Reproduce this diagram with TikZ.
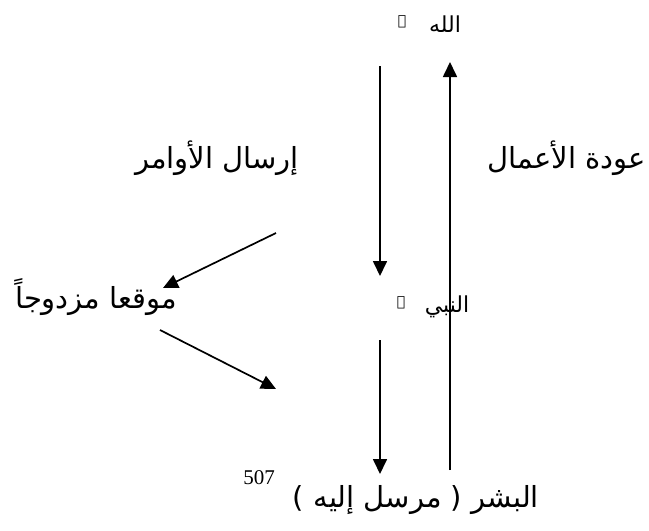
\documentclass[tikz,border=0pt]{standalone}
\usepackage{fontspec}
\usetikzlibrary{arrows.meta}
\TeXXeTstate=1
\newfontfamily\arabicfont[Script=Arabic]{DejaVu Sans}
\newfontfamily\latinfont{Liberation Serif}
\begin{document}
\begin{tikzpicture}[x=1pt,y=-1pt,
  ar/.style={inner sep=0pt, font=\arabicfont\fontsize{29}{32}\selectfont},
  arm/.style={inner sep=0pt, font=\arabicfont\fontsize{22}{24}\selectfont},
  sm/.style={inner sep=0pt, font=\arabicfont\fontsize{14}{16}\selectfont},
  arr/.style={line width=1.7pt, -{Triangle[length=15pt,width=14pt]}}]
\useasboundingbox[fill=white] (0,0) rectangle (649,531);
% texts
\node[arm] (allah) at (445,24) {\beginR الله\endR};
\node[sm] (allahs) at (402,22) {\beginR ﷾\endR};
\node[arm] (nabi) at (447,307) {\beginR النبي\endR};
\node[sm] (nabis) at (401,303) {\beginR ﷺ\endR};
\node[ar] (irsal) at (217,158) {\beginR إرسال الأوامر\endR};
\node[ar] (awda) at (567,158) {\beginR عودة الأعمال\endR};
\node[ar] (mawqi) at (96,297) {\beginR موقعا مزدوجاً\endR};
\node[ar] (bashar) at (416,500) {\beginR البشر ( مرسل إليه )\endR};
\node[inner sep=0pt, font=\latinfont\fontsize{21}{23}\selectfont] (fn) at (259,478) {507};
% connector end points
\coordinate (d1s) at (380,66);
\coordinate (d1e) at (380,276);
\coordinate (d2s) at (380,340);
\coordinate (d2e) at (380,474);
\coordinate (ups) at (450,470);
\coordinate (upe) at (450,62);
\coordinate (l1s) at (276,233);
\coordinate (l1e) at (163,288);
\coordinate (l2s) at (160,330);
\coordinate (l2e) at (276,389);
\draw[arr] (d1s) -- (d1e);
\draw[arr] (d2s) -- (d2e);
\draw[arr] (ups) -- (upe);
\draw[arr] (l1s) -- (l1e);
\draw[arr] (l2s) -- (l2e);
\end{tikzpicture}
\end{document}
